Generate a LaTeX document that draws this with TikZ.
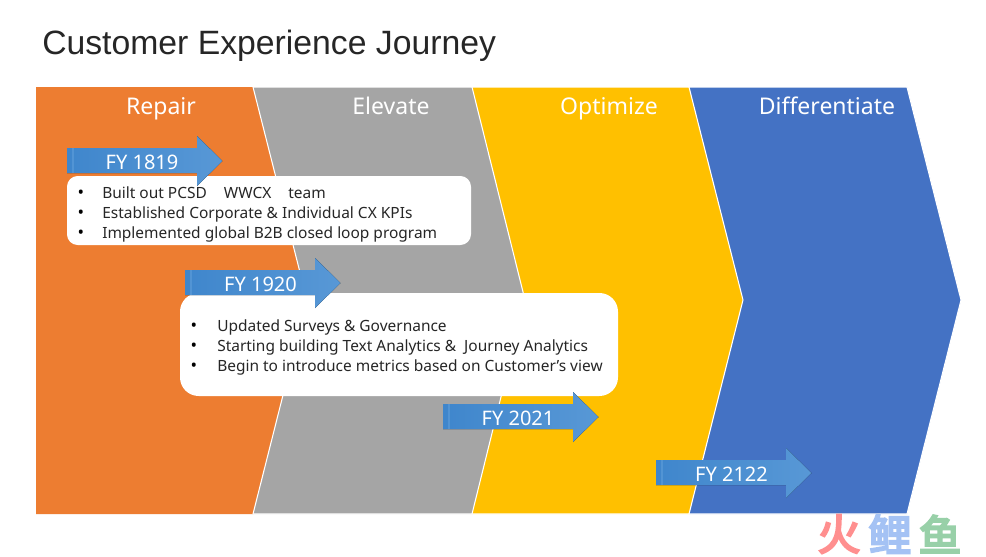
\documentclass[tikz,border=0pt]{standalone}
\usepackage{fontspec}
\setmainfont{Noto Sans}
\newfontfamily\titlefont{Liberation Sans}
\newfontfamily\cjkfont[FakeBold=5]{Noto Sans CJK SC}
\definecolor{orangeC}{HTML}{ED7D31}
\definecolor{grayC}{HTML}{A5A5A5}
\definecolor{yellowC}{HTML}{FFC000}
\definecolor{blueC}{HTML}{4472C4}
\definecolor{arrowL}{HTML}{3F86CC}
\definecolor{arrowR}{HTML}{5898D6}
\definecolor{stripC}{HTML}{6AA5DE}
\definecolor{logoR}{HTML}{FF8F8F}
\definecolor{logoB}{HTML}{A4C2F4}
\definecolor{logoG}{HTML}{98D0A8}
\tikzset{
  x=0.75pt,y=-0.75pt,
  band/.style={draw=white,line width=0.8pt,line join=miter},
  phase/.style={text=white,font=\fontsize{17.25}{20}\selectfont,inner sep=0pt,anchor=base},
  fylabel/.style={text=white,font=\fontsize{15}{18}\selectfont,inner sep=0pt,anchor=base},
  bodytext/.style={text=black!85,font=\fontsize{11.6}{14}\selectfont,anchor=base west,inner sep=0pt},
  dotm/.style={text=black,font=\fontsize{13}{14}\selectfont,inner sep=0pt,anchor=base},
  fyarrow/.style={left color=arrowL,right color=arrowR,draw=none},
  logo/.style={font=\cjkfont\fontsize{32}{36}\selectfont,inner sep=0pt},
}
\newcommand{\fyarrowshape}[2]{% left x, tip y
  \fill[fyarrow] (#1,#2-13) -- (#1+130,#2-13) -- (#1+130,#2-25) -- (#1+155.5,#2) -- (#1+130,#2+25) -- (#1+130,#2+12) -- (#1,#2+12) -- cycle;
  \fill[stripC,opacity=.45] (#1+5,#2-13) rectangle (#1+7,#2+12);
}
\begin{document}
\begin{tikzpicture}
\useasboundingbox (0,0) rectangle (986,557);
\fill[white] (0,0) rectangle (986,557);
\node[font=\titlefont\fontsize{25.3}{30}\selectfont,anchor=base west,inner sep=0pt,text=black!85] (title) at (42,54) {Customer Experience Journey};
% bands, back to front
\path[band,fill=blueC] (689,87) -- (907,87) -- (961,300) -- (907,514) -- (689,514) -- cycle;
\path[band,fill=yellowC] (472,87) -- (689,87) -- (743,300) -- (689,514) -- (472,514) -- cycle;
\path[band,fill=grayC] (253,87) -- (472,87) -- (525,300) -- (472,514) -- (253,514) -- cycle;
\path[fill=orangeC] (36,87) -- (253,87) -- (307,300) -- (253,514) -- (36,514) -- cycle;
\draw[white,line width=0.8pt] (253,87) -- (307,300) -- (253,514);
\node[phase] (repair) at (161,114) {Repair};
\node[phase] (elevate) at (391,114) {Elevate};
\node[phase] (optimize) at (609,114) {Optimize};
\node[phase] (diff) at (827,114) {Differentiate};
% boxes
\fill[white,rounded corners=8pt] (67,176) rectangle (471,245);
\fill[white,rounded corners=14pt] (180,293) rectangle (618,396);
\foreach \y in {198,218,238} \node[dotm] at (81,\y) {•};
\foreach \y in {331,351,371} \node[dotm] at (194,\y) {•};
\node[bodytext] (a1) at (102,198) {Built out PCSD\hspace{1.1em}WWCX\hspace{1.1em}team};
\node[bodytext] (a2) at (102,218) {Established Corporate \& Individual CX KPIs};
\node[bodytext] (a3) at (102,238) {Implemented global B2B closed loop program};
\node[bodytext] (b1) at (217,331) {Updated Surveys \& Governance};
\node[bodytext] (b2) at (217,351) {Starting building Text Analytics \&\ \ Journey Analytics};
\node[bodytext] (b3) at (217,371) {Begin to introduce metrics based on Customer’s view};
% arrows
\fyarrowshape{67}{161}
\fyarrowshape{185}{283}
\fyarrowshape{443}{417}
\fyarrowshape{656}{473}
\node[fylabel] (f1) at (142,169) {FY 1819};
\node[fylabel] (f2) at (260.5,291) {FY 1920};
\node[fylabel] (f3) at (518,425) {FY 2021};
\node[fylabel] (f4) at (731.5,481) {FY 2122};
% watermark
\node[logo,text=logoR] (l1) at (839,534) {火};
\node[logo,text=logoB] (l2) at (890,534) {鲤};
\node[logo,text=logoG] (l3) at (940,534) {鱼};
\end{tikzpicture}
\end{document}
